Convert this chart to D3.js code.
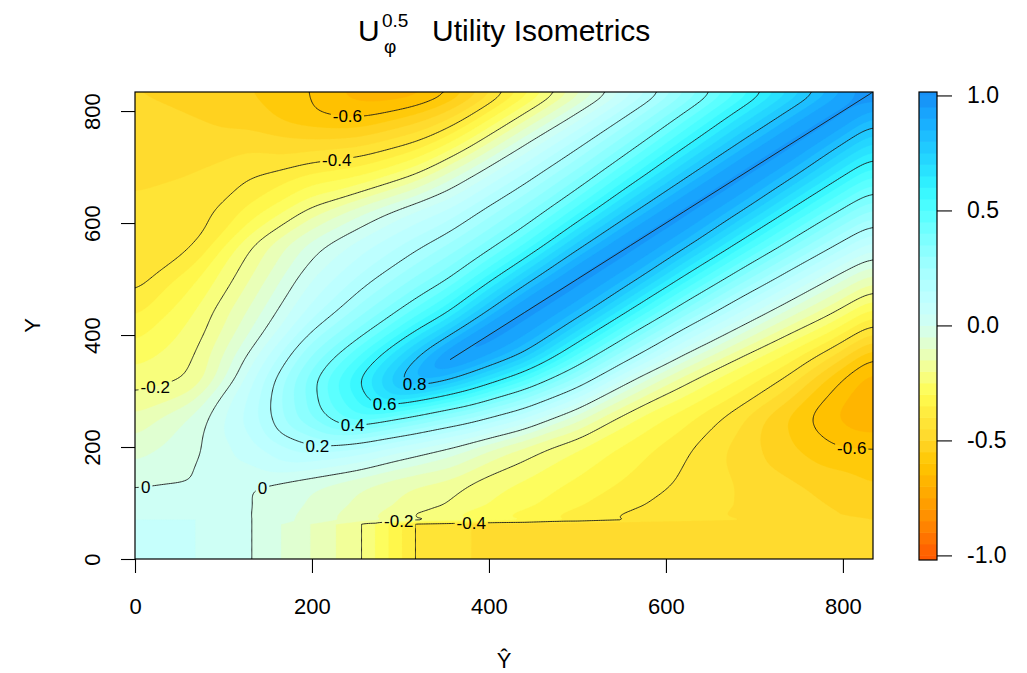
<!DOCTYPE html>
<html>
<head>
<meta charset="utf-8">
<script src="https://cdn.jsdelivr.net/npm/d3@7"></script>
<style>
  body { margin: 0; background: #fff; }
  svg { display: block; font-family: "Liberation Sans", Arial, Helvetica, sans-serif; }
</style>
</head>
<body>
<svg id="chart" width="1027" height="673"></svg>
<script>
// ---- grid of the utility surface -------------------------------------------
// predicted values (Ŷ) along x, true values (Y) along y
const yhatNodes = [0, 68, 132, 198, 256, 320, 356, 380, 440, 500, 560, 620, 680, 740, 790, 834];
const yNodes    = [0, 62, 70, 132, 198, 256, 320, 356, 380, 440, 500, 560, 620, 680, 740, 790, 834];

// utility at each node: one row per entry of yNodes, one column per entry of yhatNodes
const utility = [
  [ 0.05,  0.05,  0.0,   -0.1,   -0.2,   -0.41,  -0.434, -0.45,  -0.47,  -0.48,  -0.49,  -0.5,   -0.5,   -0.5,   -0.5,   -0.5  ],
  [ 0.05,  0.05,  0.0,   -0.1,   -0.2,   -0.41,  -0.434, -0.45,  -0.47,  -0.48,  -0.49,  -0.5,   -0.5,   -0.5,   -0.5,   -0.5  ],
  [ 0.05,  0.05,  0.0,   -0.069, -0.13,  -0.198, -0.232, -0.254, -0.309, -0.369, -0.408, -0.43,  -0.45,  -0.47,  -0.49,  -0.5  ],
  [-0.005, 0.0,   0.0,   -0.043, -0.097, -0.156, -0.17,  -0.211, -0.262, -0.313, -0.364, -0.41,  -0.45,  -0.49,  -0.52,  -0.55 ],
  [-0.08, -0.013, 0.08,   0.184,  0.14,   0.042, -0.009, -0.055, -0.165, -0.248, -0.317, -0.387, -0.464, -0.542, -0.595, -0.598],
  [-0.149,-0.042, 0.126,  0.354,  0.52,   0.394,  0.313,  0.271,  0.125, -0.063, -0.232, -0.324, -0.423, -0.558, -0.65,  -0.71 ],
  [-0.225,-0.197, 0.089,  0.374,  0.616,  0.9,    0.807,  0.723,  0.508,  0.276,  0.005, -0.178, -0.3,   -0.42,  -0.584, -0.68 ],
  [-0.267,-0.206, 0.035,  0.31,   0.53,   0.82,   1.0,    0.932,  0.738,  0.452,  0.192, -0.039, -0.207, -0.337, -0.475, -0.62 ],
  [-0.295,-0.216,-0.011,  0.26,   0.45,   0.73,   0.897,  1.0,    0.855,  0.568,  0.304,  0.063, -0.12,  -0.272, -0.393, -0.544],
  [-0.365,-0.251,-0.084,  0.12,   0.285,  0.48,   0.607,  0.73,   1.0,    0.848,  0.574,  0.328,  0.107, -0.076, -0.2,   -0.332],
  [-0.43, -0.31, -0.147,  0.044,  0.165,  0.314,  0.402,  0.49,   0.755,  1.0,    0.84,   0.576,  0.347,  0.142, -0.016, -0.136],
  [-0.425,-0.41, -0.2,   -0.033,  0.076,  0.183,  0.259,  0.315,  0.5,    0.772,  1.0,    0.831,  0.582,  0.367,  0.203,  0.069],
  [-0.44, -0.43, -0.33,  -0.18,  -0.063,  0.062,  0.112,  0.177,  0.325,  0.527,  0.785,  1.0,    0.82,   0.583,  0.41,   0.275],
  [-0.458,-0.447,-0.4,   -0.33,  -0.29,  -0.17,  -0.059,  0.01,   0.173,  0.342,  0.553,  0.796,  1.0,    0.81,   0.62,   0.475],
  [-0.47, -0.47, -0.46,  -0.48,  -0.46,  -0.384, -0.289, -0.21,   0.0,    0.18,   0.364,  0.578,  0.806,  1.0,    0.83,   0.675],
  [-0.48, -0.5,  -0.53,  -0.59,  -0.61,  -0.535, -0.468, -0.39,  -0.18,   0.023,  0.22,   0.418,  0.633,  0.844,  1.0,    0.845],
  [-0.5,  -0.52, -0.55,  -0.6,   -0.68,  -0.68,  -0.61,  -0.54,  -0.335, -0.13,   0.076,  0.283,  0.488,  0.695,  0.8625, 1.0  ]
];

const contourLevels = [-0.6, -0.4, -0.2, 0, 0.2, 0.4, 0.6, 0.8, 1.0];
const fillStep = 0.05;
const xTicks = [0, 200, 400, 600, 800];
const yTicks = [0, 200, 400, 600, 800];
const keyTicks = [1.0, 0.5, 0.0, -0.5, -1.0];

// colour key stops
const colorStops  = [-1, -0.9, -0.8, -0.7, -0.6, -0.5, -0.4, -0.3, -0.2, -0.1, 0, 0.1, 0.2, 0.3, 0.4, 0.5, 0.6, 0.7, 0.8, 0.9, 1];
const colorValues = ["#ff5a00", "#ff7c00", "#ff9800", "#ffb000", "#ffc600", "#ffd62a", "#ffe83a", "#fffc50",
                     "#f6ff8a", "#e4ffc6", "#d2fff2", "#c2ffff", "#aeffff", "#94ffff", "#76ffff", "#52ffff",
                     "#32f6ff", "#26dcff", "#1ec4ff", "#18aaff", "#1690f6"];

// where each contour label sits (data units; snapped onto its line)
const contourLabels = [
  { level: -0.6, yhat: 239, y: 786 },
  { level: -0.4, yhat: 228, y: 710 },
  { level: -0.2, yhat: 24,  y: 301 },
  { level: 0,    yhat: 11,  y: 130 },
  { level: 0,    yhat: 143, y: 130 },
  { level: 0.2,  yhat: 206, y: 200 },
  { level: 0.4,  yhat: 245, y: 234 },
  { level: 0.6,  yhat: 282, y: 267 },
  { level: 0.8,  yhat: 316, y: 302 },
  { level: -0.2, yhat: 299, y: 66 },
  { level: -0.4, yhat: 380, y: 66 },
  { level: -0.6, yhat: 809, y: 197 }
];

// ---- layout ------------------------------------------------------------------
const plot = { left: 135, right: 873, top: 92, bottom: 559 };
const key = { left: 919, right: 937, top: 92, bottom: 560 };
const domainMax = 834;

const x = d3.scaleLinear([0, domainMax], [plot.left, plot.right]);
const y = d3.scaleLinear([0, domainMax], [plot.bottom, plot.top]);
const keyScale = d3.scaleLinear([-1.02, 1.015], [key.bottom, key.top]);
const color = d3.scaleLinear(colorStops, colorValues).clamp(true);

const svg = d3.select("#chart");
const defs = svg.append("defs");
defs.append("clipPath").attr("id", "plotClip")
  .append("rect")
  .attr("x", plot.left).attr("y", plot.top)
  .attr("width", plot.right - plot.left).attr("height", plot.bottom - plot.top);

// ---- resample the surface onto a fine regular grid --------------------------
function cellIndex(nodes, v) {
  const i = d3.bisectRight(nodes, v) - 1;
  return Math.max(0, Math.min(nodes.length - 2, i));
}
function utilityAt(xv, yv) {
  const i = cellIndex(yhatNodes, xv), j = cellIndex(yNodes, yv);
  const u = (xv - yhatNodes[i]) / (yhatNodes[i + 1] - yhatNodes[i]);
  const v = (yv - yNodes[j]) / (yNodes[j + 1] - yNodes[j]);
  const z00 = utility[j][i], z10 = utility[j][i + 1];
  const z01 = utility[j + 1][i], z11 = utility[j + 1][i + 1];
  return u >= v ? z00 + u * (z10 - z00) + v * (z11 - z10)
                : z00 + v * (z01 - z00) + u * (z11 - z01);
}

const step = 2;
const n = Math.round(domainMax / step) + 1;
const raw = new Float64Array(n * n);
for (let j = 0; j < n; j++) {
  for (let i = 0; i < n; i++) raw[j * n + i] = utilityAt(i * step, j * step);
}
// soften the piecewise-linear surface, keeping the sharp step along the bottom rows
const soft = d3.blur2({ data: Float64Array.from(raw), width: n, height: n }, 6).data;
const values = new Float64Array(n * n);
for (let j = 0; j < n; j++) {
  const w = Math.max(0, Math.min(1, (j * step - 72) / 20));
  for (let i = 0; i < n; i++) {
    const k = j * n + i;
    values[k] = (1 - w) * raw[k] + w * soft[k];
  }
}

const toPixels = d3.geoTransform({
  point(cx, cy) { this.stream.point(x((cx - 0.5) * step), y((cy - 0.5) * step)); }
});
const path = d3.geoPath(toPixels);

// ---- filled bands --------------------------------------------------------------
const fillThresholds = d3.range(-20, 20).map(k => k * fillStep);
const bands = d3.contours().size([n, n]).thresholds(fillThresholds)(values);

const plotG = svg.append("g").attr("clip-path", "url(#plotClip)");
plotG.append("g").selectAll("path")
  .data(bands)
  .join("path")
  .attr("d", path)
  .attr("fill", d => color(d.value + fillStep / 2))
  .attr("stroke", d => color(d.value + fillStep / 2))
  .attr("stroke-width", 0.3);

// ---- contour lines ----------------------------------------------------------------
const lineGen = d3.contours().size([n, n]);
const lines = contourLevels.filter(l => l < 1).map(level => ({
  level,
  geom: lineGen.contour(values, level)
}));

const mask = defs.append("mask").attr("id", "labelGaps")
  .attr("maskUnits", "userSpaceOnUse")
  .attr("x", 0).attr("y", 0).attr("width", 1027).attr("height", 673);
mask.append("rect").attr("x", 0).attr("y", 0).attr("width", 1027).attr("height", 673).attr("fill", "#fff");

const lineG = plotG.append("g").attr("mask", "url(#labelGaps)");
lineG.selectAll("path.iso")
  .data(lines)
  .join("path")
  .attr("class", "iso")
  .attr("d", d => path(d.geom))
  .attr("fill", "none")
  .attr("stroke", "#1a1a1a")
  .attr("stroke-width", 0.9);

// the top level is reached only along a ridge of grid nodes: join those nodes
const topLevel = d3.max(contourLevels);
const ridge = [];
utility.forEach((row, j) => row.forEach((z, i) => {
  if (z >= topLevel) ridge.push([yhatNodes[i], yNodes[j]]);
}));
ridge.sort((a, b) => a[0] - b[0]);
lineG.append("path")
  .attr("d", d3.line().x(d => x(d[0])).y(d => y(d[1]))(ridge))
  .attr("fill", "none")
  .attr("stroke", "#1a1a1a")
  .attr("stroke-width", 0.9);

// labels snapped to the nearest vertex of their line
function nearestOnLine(level, px, py) {
  const entry = lines.find(l => l.level === level);
  let best = [px, py], bestD = Infinity;
  entry.geom.coordinates.forEach(poly => poly.forEach(ring => ring.forEach(([cx, cy]) => {
    const qx = x((cx - 0.5) * step), qy = y((cy - 0.5) * step);
    if (qx < plot.left || qx > plot.right || qy < plot.top || qy > plot.bottom) return;
    const d = (qx - px) ** 2 + (qy - py) ** 2;
    if (d < bestD) { bestD = d; best = [qx, qy]; }
  })));
  return bestD < 400 ? best : [px, py];
}

const labelG = svg.append("g").attr("clip-path", "url(#plotClip)");
contourLabels.forEach(lab => {
  const [lx, ly] = nearestOnLine(lab.level, x(lab.yhat), y(lab.y));
  const t = labelG.append("text")
    .attr("x", lx).attr("y", ly).attr("dy", "0.36em")
    .attr("text-anchor", "middle")
    .attr("font-size", 17)
    .attr("fill", "#000")
    .text(String(lab.level));
  const b = t.node().getBBox();
  mask.append("rect")
    .attr("x", b.x - 2).attr("y", ly - 7)
    .attr("width", b.width + 4).attr("height", 14)
    .attr("fill", "#000");
});

// plot frame
svg.append("rect")
  .attr("x", plot.left).attr("y", plot.top)
  .attr("width", plot.right - plot.left).attr("height", plot.bottom - plot.top)
  .attr("fill", "none").attr("stroke", "#000").attr("stroke-width", 1.2);

// ---- axes ---------------------------------------------------------------------
const xAxis = svg.append("g")
  .attr("transform", `translate(0,${plot.bottom})`)
  .call(d3.axisBottom(x).tickValues(xTicks).tickSize(14).tickFormat(d3.format("d")));
xAxis.select(".domain").remove();
xAxis.selectAll(".tick line").attr("stroke", "#000").attr("stroke-width", 1.1);
xAxis.selectAll(".tick text")
  .attr("y", 55).attr("dy", null)
  .attr("font-size", 22).attr("font-family", "Liberation Sans, Arial, sans-serif").attr("fill", "#000");

const yAxis = svg.append("g")
  .attr("transform", `translate(${plot.left},0)`)
  .call(d3.axisLeft(y).tickValues(yTicks).tickSize(14).tickFormat(d3.format("d")));
yAxis.select(".domain").remove();
yAxis.selectAll(".tick line").attr("stroke", "#000").attr("stroke-width", 1.1);
yAxis.selectAll(".tick text")
  .attr("x", null).attr("y", null).attr("dy", null)
  .attr("transform", "translate(-35,0) rotate(-90)")
  .attr("text-anchor", "middle")
  .attr("font-size", 22).attr("font-family", "Liberation Sans, Arial, sans-serif").attr("fill", "#000");

svg.append("text")
  .attr("x", (plot.left + plot.right) / 2).attr("y", 668)
  .attr("text-anchor", "middle").attr("font-size", 22)
  .text("Ŷ");
svg.append("text")
  .attr("transform", `translate(40,${(plot.top + plot.bottom) / 2}) rotate(-90)`)
  .attr("text-anchor", "middle").attr("font-size", 22)
  .text("Y");

// ---- title --------------------------------------------------------------------
const title = svg.append("g");
title.append("text").attr("x", 358).attr("y", 41).attr("font-size", 30).text("U");
title.append("text").attr("x", 382).attr("y", 27).attr("font-size", 19).text("0.5");
title.append("text").attr("x", 384).attr("y", 53).attr("font-size", 19).text("φ");
title.append("text").attr("x", 432).attr("y", 41).attr("font-size", 30).text("Utility Isometrics");

// ---- colour key ---------------------------------------------------------------------
svg.append("clipPath").attr("id", "keyClip")
  .append("rect").attr("x", key.left).attr("y", key.top)
  .attr("width", key.right - key.left).attr("height", key.bottom - key.top);
const keyBands = d3.range(-21, 21).map(k => k * fillStep);
svg.append("g").attr("clip-path", "url(#keyClip)")
  .selectAll("rect")
  .data(keyBands)
  .join("rect")
  .attr("x", key.left)
  .attr("width", key.right - key.left)
  .attr("y", d => keyScale(d + fillStep))
  .attr("height", d => keyScale(d) - keyScale(d + fillStep) + 0.5)
  .attr("fill", d => color(d + fillStep / 2));
svg.append("rect")
  .attr("x", key.left).attr("y", key.top)
  .attr("width", key.right - key.left).attr("height", key.bottom - key.top)
  .attr("fill", "none").attr("stroke", "#000").attr("stroke-width", 1.2);

const keyAxis = svg.append("g")
  .attr("transform", `translate(${key.right},0)`)
  .call(d3.axisRight(keyScale).tickValues(keyTicks).tickSize(15).tickPadding(15)
    .tickFormat(d => d.toFixed(1)));
keyAxis.select(".domain").remove();
keyAxis.selectAll(".tick line").attr("stroke", "#000").attr("stroke-width", 1.1);
keyAxis.selectAll(".tick text")
  .attr("font-size", 23).attr("font-family", "Liberation Sans, Arial, sans-serif").attr("fill", "#000");
</script>
</body>
</html>
